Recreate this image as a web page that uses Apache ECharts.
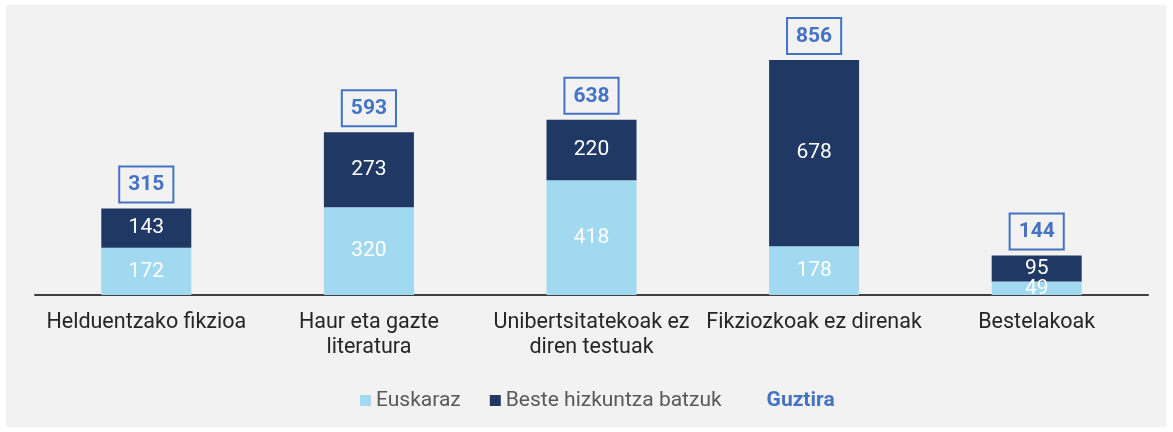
<!DOCTYPE html>
<html>
<head>
<meta charset="utf-8">
<script src="https://cdn.jsdelivr.net/npm/echarts@6/dist/echarts.min.js"></script>
<style>
  html, body { margin: 0; padding: 0; background: #ffffff; }
  #chart { width: 1173px; height: 432px; }
</style>
</head>
<body>
<div id="chart"></div>
<script>
const categories = [
  'Helduentzako fikzioa',
  'Haur eta gazte\nliteratura',
  'Unibertsitatekoak ez\ndiren testuak',
  'Fikziozkoak ez direnak',
  'Bestelakoak'
]
const euskaraz = [172, 320, 418, 178, 49]
const besteHizkuntzak = [143, 273, 220, 678, 95]
const guztira = [315, 593, 638, 856, 144]

const chart = echarts.init(document.getElementById('chart'))

const segmentLabel = {
  show: true,
  position: 'inside',
  color: '#ffffff',
  fontSize: 21,
  textBorderWidth: 0
}

const option = {
  backgroundColor: '#ffffff',
  textStyle: { fontFamily: 'Roboto' },
  animation: false,
  graphic: [
    {
      type: 'rect',
      z: -10,
      shape: { x: 6, y: 5, width: 1160, height: 422 },
      style: { fill: '#f2f2f2' }
    }
  ],
  grid: {
    left: 35,
    right: 25,
    top: 20.5,
    bottom: 137
  },
  legend: {
    left: 355,
    top: 385,
    itemWidth: 11,
    itemHeight: 11,
    itemGap: 29,
    textStyle: { fontSize: 21, color: '#595959' },
    data: [
      { name: 'Euskaraz', icon: 'rect' },
      { name: 'Beste hizkuntza batzuk', icon: 'rect' },
      { name: 'Guztira', icon: 'none', textStyle: { color: '#4472c4', fontWeight: 'bold' } }
    ]
  },
  xAxis: {
    type: 'category',
    data: categories,
    axisLine: { lineStyle: { color: '#404040', width: 2 } },
    axisTick: { show: false },
    axisLabel: {
      interval: 0,
      margin: 15,
      fontSize: 21.5,
      lineHeight: 25,
      color: '#262626'
    }
  },
  yAxis: {
    type: 'value',
    min: 0,
    max: 1000,
    show: false,
    splitLine: { show: false }
  },
  series: [
    {
      name: 'Euskaraz',
      type: 'bar',
      stack: 'guztira',
      barWidth: 90,
      data: euskaraz,
      itemStyle: { color: '#a1d9f0' },
      label: segmentLabel
    },
    {
      name: 'Beste hizkuntza batzuk',
      type: 'bar',
      stack: 'guztira',
      barWidth: 90,
      data: besteHizkuntzak,
      itemStyle: { color: '#1f3864' },
      label: segmentLabel
    },
    {
      name: 'Guztira',
      type: 'line',
      data: guztira,
      symbol: 'circle',
      symbolSize: 0,
      lineStyle: { opacity: 0 },
      itemStyle: { color: '#4472c4', opacity: 0 },
      label: {
        show: true,
        position: 'top',
        distance: 7,
        color: '#4472c4',
        opacity: 1,
        fontWeight: 'bold',
        fontSize: 21,
        textBorderColor: 'transparent',
        textBorderWidth: 0,
        textShadowColor: 'transparent',
        textShadowBlur: 0,
        borderColor: '#4472c4',
        borderWidth: 2,
        backgroundColor: '#f2f2f2',
        padding: [7, 8, 6, 8]
      }
    }
  ]
}

chart.setOption(option)
</script>
</body>
</html>
